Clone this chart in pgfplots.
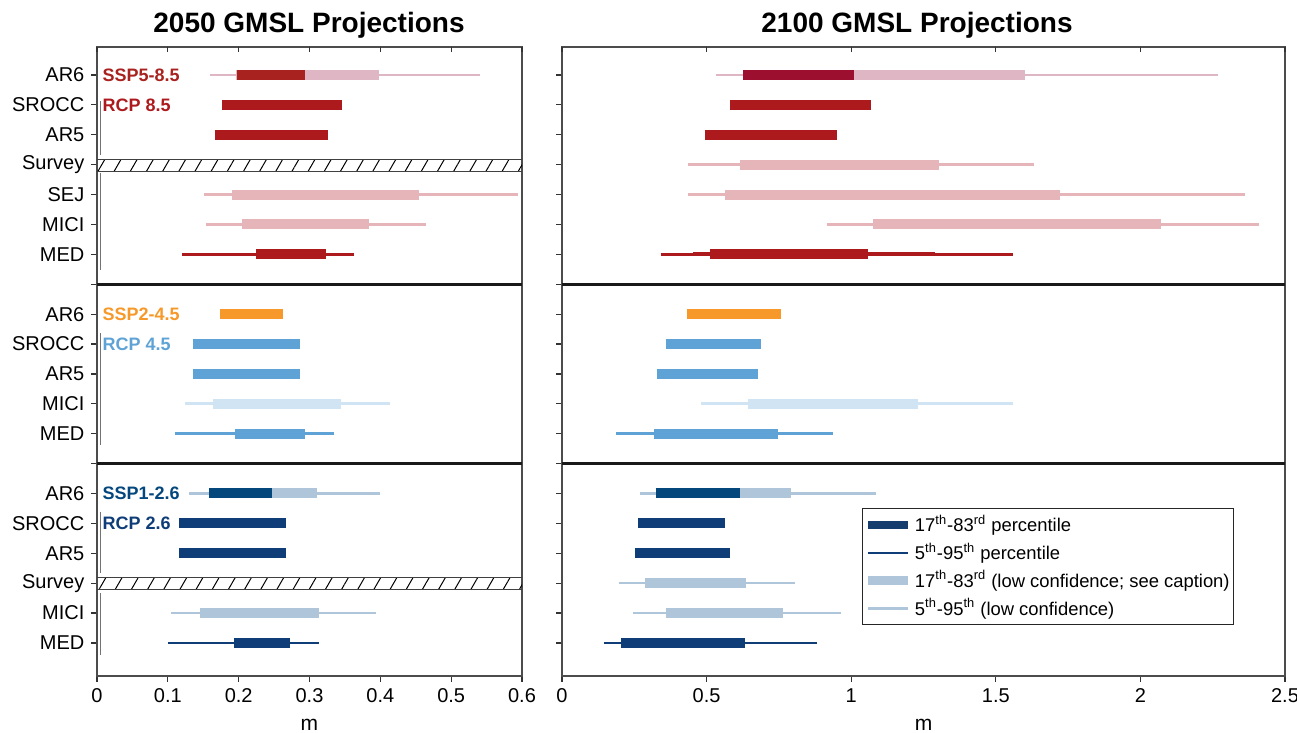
\documentclass[border=0pt]{standalone}
\usepackage{pgfplots}
\pgfplotsset{compat=1.18}
\usepackage{fontspec}
\setmainfont{Liberation Sans}
\usetikzlibrary{patterns.meta}

\definecolor{dred}{HTML}{AD1A1D}
\definecolor{ar6red}{HTML}{A8221F}
\definecolor{ar6redR}{HTML}{9C0F2F}
\definecolor{pinkA}{HTML}{DFB7C4}
\definecolor{pinkB}{HTML}{E6B5B9}
\definecolor{orng}{HTML}{F6992A}
\definecolor{mblue}{HTML}{5FA3D6}
\definecolor{lblue}{HTML}{D0E4F3}
\definecolor{dblue}{HTML}{0F3D78}
\definecolor{ar6blue}{HTML}{04477D}
\definecolor{gblue}{HTML}{AEC5DA}
\definecolor{legblue}{HTML}{143C6C}

\newcommand{\rng}[5]{\addplot[forget plot, line width=#1, color=#2] coordinates {(#3,#5) (#4,#5)};}

\pgfplotsset{
  base/.style={
    anchor=south west, scale only axis, height=314.5pt,
    ymin=0.063, ymax=21.107, y dir=reverse,
    axis line style={black!70, line width=0.6pt},
    every tick/.style={black!80, line width=0.6pt},
    major tick length=2.8pt,
    tick align=outside,
    xtick pos=left, ytick pos=left,
    ytick={1,...,20},
    /pgf/number format/assume math mode=true,
    tick label style={font=\fontsize{10}{12}\selectfont},
    xlabel=m,
    xlabel style={font=\fontsize{10.5}{12}\selectfont, yshift=-1.5pt},
  },
  topticks/.style={
    anchor=south west, scale only axis, height=314.5pt,
    ymin=0, ymax=1, ytick=\empty,
    axis line style={draw=none},
    every tick/.style={black!80, line width=0.6pt},
    major tick length=2.5pt,
    tick align=inside, xtick pos=right, xticklabels={},
  },
}

\begin{document}
\begin{tikzpicture}
\useasboundingbox (0,0) rectangle (648.5pt,366.5pt);

% titles
\node[anchor=base, inner sep=0pt, font=\fontsize{14}{16}\selectfont\bfseries] at (154.5pt,350pt) {2050 GMSL Projections};
\node[anchor=base, inner sep=0pt, font=\fontsize{14}{16}\selectfont\bfseries] at (458.5pt,350pt) {2100 GMSL Projections};

% ---------------- LEFT: 2050 ----------------
\begin{axis}[base, at={(48.5pt,28.5pt)}, width=212.5pt,
  xmin=0, xmax=0.6, xtick={0,0.1,0.2,0.3,0.4,0.5,0.6},
  yticklabels={AR6,SROCC,AR5,Survey,SEJ,MICI,MED,,AR6,SROCC,AR5,MICI,MED,,AR6,SROCC,AR5,Survey,MICI,MED}]
% hatched survey bands
\path[pattern={Lines[angle=60,distance=7pt,line width=0.5pt]}, pattern color=black] (axis cs:0,3.83) rectangle (axis cs:0.6,4.23);
\draw[black!75, line width=0.6pt] (axis cs:0,3.83) -- (axis cs:0.6,3.83) (axis cs:0,4.23) -- (axis cs:0.6,4.23);
\path[pattern={Lines[angle=60,distance=7pt,line width=0.5pt]}, pattern color=black] (axis cs:0,17.80) rectangle (axis cs:0.6,18.20);
\draw[black!75, line width=0.6pt] (axis cs:0,17.80) -- (axis cs:0.6,17.80) (axis cs:0,18.20) -- (axis cs:0.6,18.20);
% separators
\draw[black!90, line width=1.4pt] (axis cs:0,8) -- (axis cs:0.6,8) (axis cs:0,14) -- (axis cs:0.6,14);
% bracket lines
\draw[black!55, line width=0.7pt] (axis cs:0.005,1.87) -- (axis cs:0.005,3.68)
  (axis cs:0.005,4.28) -- (axis cs:0.005,7.52)
  (axis cs:0.005,9.63) -- (axis cs:0.005,13.38)
  (axis cs:0.005,15.62) -- (axis cs:0.005,17.66)
  (axis cs:0.005,18.33) -- (axis cs:0.005,20.40);
% top group (SSP5-8.5 / RCP 8.5)
\rng{1.3pt}{pinkA}{0.159}{0.541}{1}
\rng{5pt}{pinkA}{0.196}{0.398}{1}
\rng{5pt}{ar6red}{0.198}{0.293}{1}
\rng{5pt}{dred}{0.177}{0.346}{2}
\rng{5pt}{dred}{0.166}{0.326}{3}
\rng{1.3pt}{pinkB}{0.151}{0.594}{5}
\rng{5pt}{pinkB}{0.190}{0.454}{5}
\rng{1.3pt}{pinkB}{0.154}{0.464}{6}
\rng{5pt}{pinkB}{0.205}{0.384}{6}
\rng{1.3pt}{dred}{0.120}{0.363}{7}
\rng{5pt}{dred}{0.225}{0.323}{7}
% middle group (SSP2-4.5 / RCP 4.5)
\rng{5pt}{orng}{0.174}{0.263}{9}
\rng{5pt}{mblue}{0.136}{0.286}{10}
\rng{5pt}{mblue}{0.136}{0.286}{11}
\rng{1.3pt}{lblue}{0.124}{0.414}{12}
\rng{5pt}{lblue}{0.164}{0.344}{12}
\rng{1.3pt}{mblue}{0.110}{0.334}{13}
\rng{5pt}{mblue}{0.195}{0.293}{13}
% bottom group (SSP1-2.6 / RCP 2.6)
\rng{1.3pt}{gblue}{0.130}{0.400}{15}
\rng{5pt}{gblue}{0.158}{0.310}{15}
\rng{5pt}{ar6blue}{0.158}{0.247}{15}
\rng{5pt}{dblue}{0.116}{0.267}{16}
\rng{5pt}{dblue}{0.116}{0.267}{17}
\rng{1.3pt}{gblue}{0.105}{0.394}{19}
\rng{5pt}{gblue}{0.145}{0.314}{19}
\rng{1.3pt}{dblue}{0.100}{0.314}{20}
\rng{5pt}{dblue}{0.194}{0.273}{20}
% scenario labels
\node[anchor=west, inner sep=0pt, font=\fontsize{9}{10}\selectfont\bfseries, text=ar6red] at (axis cs:0.0075,1) {SSP5-8.5};
\node[anchor=west, inner sep=0pt, font=\fontsize{9}{10}\selectfont\bfseries, text=dred] at (axis cs:0.0075,2) {RCP 8.5};
\node[anchor=west, inner sep=0pt, font=\fontsize{9}{10}\selectfont\bfseries, text=orng] at (axis cs:0.0075,9) {SSP2-4.5};
\node[anchor=west, inner sep=0pt, font=\fontsize{9}{10}\selectfont\bfseries, text=mblue] at (axis cs:0.0075,10) {RCP 4.5};
\node[anchor=west, inner sep=0pt, font=\fontsize{9}{10}\selectfont\bfseries, text=ar6blue] at (axis cs:0.0075,15) {SSP1-2.6};
\node[anchor=west, inner sep=0pt, font=\fontsize{9}{10}\selectfont\bfseries, text=dblue] at (axis cs:0.0075,16) {RCP 2.6};
\end{axis}
\begin{axis}[topticks, at={(48.5pt,28.5pt)}, width=212.5pt, xmin=0, xmax=0.6, xtick={0,0.1,0.2,0.3,0.4,0.5,0.6}]
\end{axis}

% ---------------- RIGHT: 2100 ----------------
\begin{axis}[base, at={(281pt,28.5pt)}, width=361.5pt,
  xmin=0, xmax=2.5, xtick={0,0.5,1,1.5,2,2.5},
  yticklabels={},
  legend style={at={(0.4149,0.2671)}, anchor=north west, draw=black!85, line width=0.6pt,
    font=\fontsize{9.2}{10.5}\selectfont, cells={anchor=west}, row sep=1.5pt,
    inner xsep=0.5pt, inner ysep=2pt, nodes={inner xsep=1.5pt, inner ysep=1.2pt}}]
\draw[black!90, line width=1.4pt] (axis cs:0,8) -- (axis cs:2.5,8) (axis cs:0,14) -- (axis cs:2.5,14);
% top group
\rng{1.3pt}{pinkA}{0.531}{2.270}{1}
\rng{5pt}{pinkA}{0.626}{1.601}{1}
\rng{5pt}{ar6redR}{0.626}{1.010}{1}
\rng{5pt}{dred}{0.581}{1.070}{2}
\rng{5pt}{dred}{0.494}{0.950}{3}
\rng{1.3pt}{pinkB}{0.434}{1.631}{4}
\rng{5pt}{pinkB}{0.614}{1.302}{4}
\rng{1.3pt}{pinkB}{0.434}{2.361}{5}
\rng{5pt}{pinkB}{0.564}{1.723}{5}
\rng{1.3pt}{pinkB}{0.915}{2.411}{6}
\rng{5pt}{pinkB}{1.075}{2.070}{6}
\rng{1.3pt}{dred}{0.341}{1.558}{7}
\rng{2pt}{dred}{0.454}{1.290}{7}
\rng{5pt}{dred}{0.511}{1.058}{7}
% middle group
\rng{5pt}{orng}{0.432}{0.756}{9}
\rng{5pt}{mblue}{0.358}{0.688}{10}
\rng{5pt}{mblue}{0.328}{0.679}{11}
\rng{1.3pt}{lblue}{0.480}{1.560}{12}
\rng{5pt}{lblue}{0.642}{1.230}{12}
\rng{1.3pt}{mblue}{0.187}{0.936}{13}
\rng{5pt}{mblue}{0.319}{0.748}{13}
% bottom group
\rng{1.3pt}{gblue}{0.268}{1.085}{15}
\rng{5pt}{gblue}{0.324}{0.793}{15}
\rng{5pt}{ar6blue}{0.324}{0.617}{15}
\rng{5pt}{dblue}{0.264}{0.562}{16}
\rng{5pt}{dblue}{0.252}{0.582}{17}
\rng{1.3pt}{gblue}{0.196}{0.804}{18}
\rng{5pt}{gblue}{0.286}{0.635}{18}
\rng{1.3pt}{gblue}{0.246}{0.965}{19}
\rng{5pt}{gblue}{0.358}{0.764}{19}
\rng{1.3pt}{dblue}{0.144}{0.881}{20}
\rng{5pt}{dblue}{0.204}{0.634}{20}
% legend
\addlegendimage{legend image code/.code={\draw[line width=4.2pt, legblue] (0pt,0pt) -- (20pt,0pt);}}
\addlegendentry{17\textsuperscript{th}-83\textsuperscript{rd} percentile}
\addlegendimage{legend image code/.code={\draw[line width=1.2pt, dblue] (0pt,0pt) -- (20pt,0pt);}}
\addlegendentry{5\textsuperscript{th}-95\textsuperscript{th} percentile}
\addlegendimage{legend image code/.code={\draw[line width=4.2pt, gblue] (0pt,0pt) -- (20pt,0pt);}}
\addlegendentry{17\textsuperscript{th}-83\textsuperscript{rd} (low confidence; see caption)}
\addlegendimage{legend image code/.code={\draw[line width=1.2pt, gblue] (0pt,0pt) -- (20pt,0pt);}}
\addlegendentry{5\textsuperscript{th}-95\textsuperscript{th} (low confidence)}
\end{axis}
\begin{axis}[topticks, at={(281pt,28.5pt)}, width=361.5pt, xmin=0, xmax=2.5, xtick={0,0.5,1,1.5,2,2.5}]
\end{axis}
\end{tikzpicture}
\end{document}
